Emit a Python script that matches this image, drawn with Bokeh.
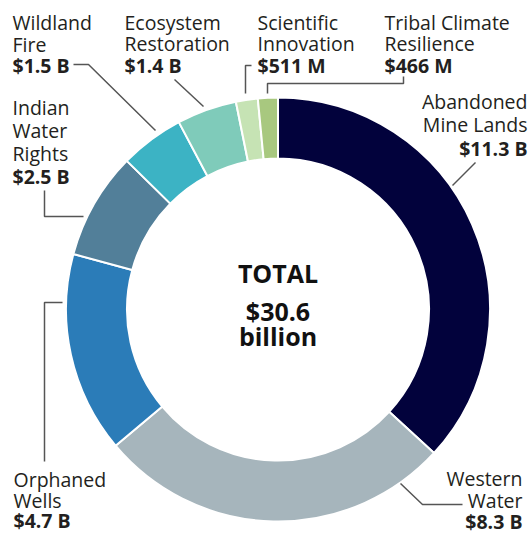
import math
from bokeh.plotting import figure
from bokeh.models import ColumnDataSource, Range1d
from bokeh.core.properties import value
from bokeh.embed import file_html
from bokeh.resources import INLINE

# ---- data ----
categories = ["Abandoned Mine Lands", "Western Water", "Orphaned Wells",
              "Indian Water Rights", "Wildland Fire", "Ecosystem Restoration",
              "Scientific Innovation", "Tribal Climate Resilience"]
values_b = [11.3, 8.3, 4.7, 2.5, 1.5, 1.4, 0.511, 0.466]
value_labels = ["$11.3 B", "$8.3 B", "$4.7 B", "$2.5 B", "$1.5 B", "$1.4 B", "$511 M", "$466 M"]
colors = ["#02023c", "#a6b5bc", "#2b7cb8", "#527f99", "#3cb3c4", "#7fcbba", "#c6e3b4", "#a8c87f"]
total_label = ["TOTAL", "$30.6", "billion"]

W, H = 531, 536
FONT = "Open Sans"
TXT = "#231f20"
FS = "19.5px"

def X(sx):
    return sx

def Y(sy):
    return H - sy

p = figure(width=W, height=H, output_backend="svg", toolbar_location=None,
           x_range=Range1d(0, W), y_range=Range1d(0, H), min_border=0)
p.axis.visible = False
p.grid.visible = False
p.outline_line_color = None
p.background_fill_color = "white"

# donut
total = sum(values_b)
starts, ends = [], []
cum = 0.0
for v in values_b:
    starts.append(math.pi / 2 - cum / total * 2 * math.pi)
    cum += v
    ends.append(math.pi / 2 - cum / total * 2 * math.pi)
src = ColumnDataSource(dict(start=starts, end=ends, color=colors, cat=categories))
cx, cy = X(277.5), Y(309)
p.annular_wedge(x=cx, y=cy, inner_radius=151, outer_radius=212,
                start_angle="start", end_angle="end", direction="clock",
                fill_color="color", line_color="white", line_width=2, source=src)

# labels: (category index, anchor sx, row sy list, align, name lines)
label_layout = [
    (0, 527, [101, 124, 148], "right", ["Abandoned", "Mine Lands"]),
    (1, 522, [478, 500, 521], "right", ["Western", "Water"]),
    (2, 13, [479, 500, 520], "left", ["Orphaned", "Wells"]),
    (3, 12, [107, 130, 153, 176], "left", ["Indian", "Water", "Rights"]),
    (4, 12, [22, 44, 65], "left", ["Wildland", "Fire"]),
    (5, 124, [22, 43, 65], "left", ["Ecosystem", "Restoration"]),
    (6, 257, [22, 43, 65], "left", ["Scientific", "Innovation"]),
    (7, 384, [22, 43, 65], "left", ["Tribal Climate", "Resilience"]),
]
for idx, ax, rows, align, name_lines in label_layout:
    nx = [X(ax)] * len(name_lines)
    ny = [Y(r) for r in rows[:len(name_lines)]]
    p.text(x=nx, y=ny, text=name_lines, text_align=align, text_baseline="middle",
           text_font=value(FONT), text_font_size=FS, text_color=TXT)
    p.text(x=[X(ax)], y=[Y(rows[-1])], text=[value_labels[idx]], text_align=align,
           text_baseline="middle", text_font=value(FONT), text_font_size=FS,
           text_font_style="bold", text_color=TXT)

# leader lines (screen coords)
leaders = [
    [(73, 64), (88, 64), (155, 130)],
    [(174, 79), (203, 106)],
    [(251, 65), (245, 65), (245, 93)],
    [(403, 76), (403, 83), (267, 83), (267, 93)],
    [(475, 162), (452, 185)],
    [(44, 190), (44, 216), (83, 216)],
    [(62, 302), (44, 302), (44, 461)],
    [(400, 483), (422, 504), (462, 504)],
]
p.multi_line(xs=[[X(a) for a, b in L] for L in leaders],
             ys=[[Y(b) for a, b in L] for L in leaders],
             line_color="#555555", line_width=1.5)

# center total
p.text(x=[cx] * 3, y=[Y(272), Y(310), Y(335)], text=total_label,
       text_align="center", text_baseline="middle", text_font=value(FONT),
       text_font_size="25px", text_font_style="bold", text_color="#111111")

open("out.html", "w").write(file_html(p, INLINE))
